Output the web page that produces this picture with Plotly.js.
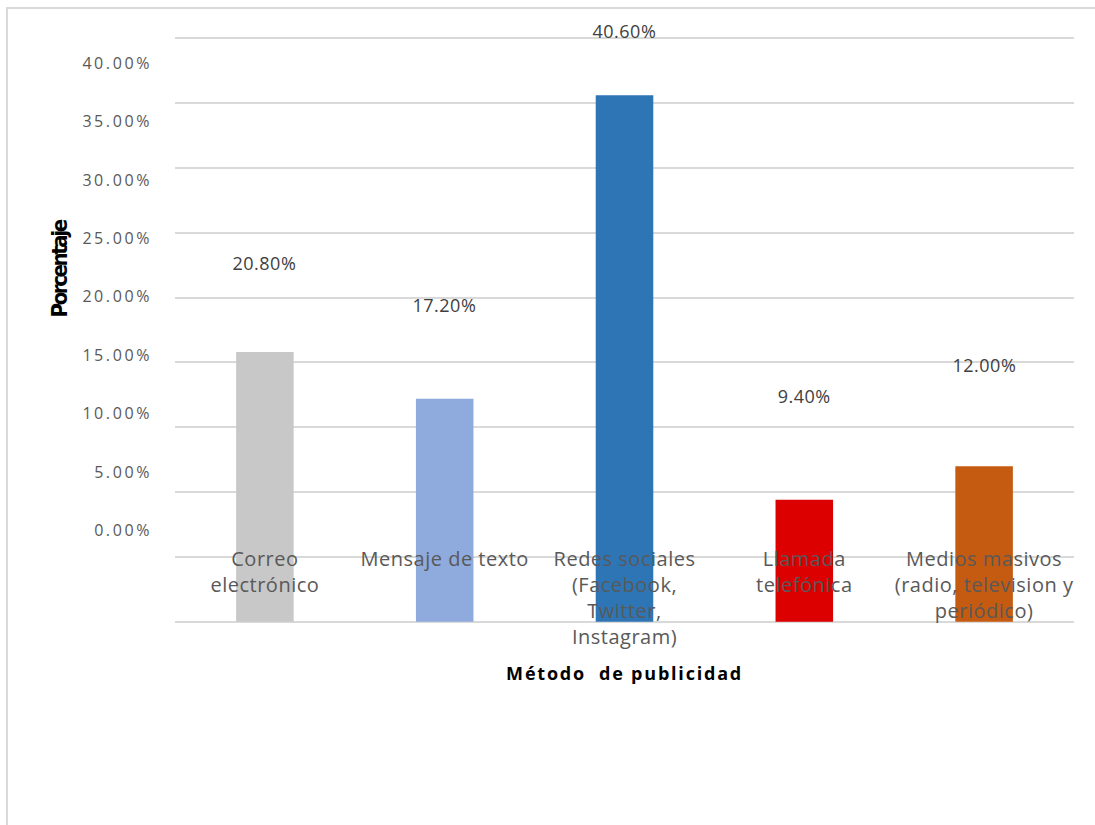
<!DOCTYPE html>
<html>
<head>
<meta charset="utf-8">
<script src="https://cdn.plot.ly/plotly-3.0.1.min.js"></script>
<style>
  html, body { margin: 0; padding: 0; background: #ffffff; }
  #grafico { width: 1095px; height: 825px; }
  /* spaced-out lettering for axis labels */
  #grafico .xtick text { letter-spacing: 0.5px; }
  #grafico .y2tick text { letter-spacing: 2.6px; }
  #grafico .annotation-text { letter-spacing: 0.5px; }
  #grafico .annotation[data-index="5"] text { letter-spacing: -2.4px; }
  #grafico .annotation[data-index="6"] text { letter-spacing: 1.8px; }
</style>
</head>
<body>
<div id="grafico"></div>
<script>
// Método de publicidad: share of respondents per channel
const categorias = [
  "Correo<br>electrónico",
  "Mensaje de texto",
  "Redes sociales<br>(Facebook,<br>Twitter,<br>Instagram)",
  "Llamada<br>telefónica",
  "Medios masivos<br>(radio, television y<br>periódico)"
];
const porcentajes = [20.8, 17.2, 40.6, 9.4, 12.0];
const colores = ["#c8c8c8", "#8faadc", "#2e75b6", "#dc0000", "#c55a11"];

// percentage scale shown on the left
const valoresEje = [0, 5, 10, 15, 20, 25, 30, 35, 40];
const etiquetasEje = ["0.00%", "5.00%", "10.00%", "15.00%", "20.00%", "25.00%", "30.00%", "35.00%", "40.00%"];

const tituloY = "Porcentaje";
const tituloX = "Método&nbsp; de publicidad";

const barras = {
  type: "bar",
  x: categorias,
  y: porcentajes,
  marker: { color: colores },
  width: 0.32,
  xaxis: "x",
  yaxis: "y",
  hoverinfo: "none"
};

// invisible trace so the secondary scale is drawn
const escala = {
  type: "scatter",
  mode: "markers",
  x: [categorias[0]],
  y: [0],
  marker: { opacity: 0 },
  xaxis: "x",
  yaxis: "y2",
  hoverinfo: "none",
  showlegend: false
};

const etiquetas = categorias.map((c, i) => ({
  x: c,
  y: porcentajes[i],
  xref: "x",
  yref: "y2",
  yshift: 25,
  text: porcentajes[i].toFixed(2) + "%",
  showarrow: false,
  font: { family: "Open Sans", size: 18, color: "#404040" }
}));

const anotaciones = etiquetas.concat([
  {
    text: "<b>" + tituloY + "</b>",
    xref: "paper", yref: "paper",
    x: -0.128, y: 0.6032,
    xanchor: "center", yanchor: "middle",
    textangle: -90,
    showarrow: false,
    font: { family: "Liberation Sans Narrow, DejaVu Sans Condensed, DejaVu Sans", size: 22, color: "#000000" }
  },
  {
    text: "<b>" + tituloX + "</b>",
    xref: "paper", yref: "paper",
    x: 0.5, y: -0.0853,
    xanchor: "center", yanchor: "middle",
    showarrow: false,
    font: { family: "Open Sans", size: 18, color: "#000000" }
  }
]);

const layout = {
  width: 1095,
  height: 825,
  margin: { l: 175, r: 21, t: 37, b: 202, pad: 0 },
  paper_bgcolor: "#ffffff",
  plot_bgcolor: "#ffffff",
  showlegend: false,
  xaxis: {
    type: "category",
    range: [-0.5, 4.5],
    showgrid: false,
    zeroline: false,
    showline: false,
    ticks: "",
    ticklabelstandoff: -78,
    tickfont: { family: "Open Sans", size: 20, color: "#595959" },
    fixedrange: true
  },
  yaxis: {
    range: [-0.1, 45.1],
    dtick: 5,
    tick0: 0,
    showgrid: true,
    gridcolor: "#d9d9d9",
    gridwidth: 2,
    zeroline: true,
    zerolinecolor: "#d9d9d9",
    zerolinewidth: 2,
    showline: false,
    showticklabels: false,
    ticks: "",
    fixedrange: true
  },
  yaxis2: {
    overlaying: "y",
    side: "left",
    range: [-7.92, 42.25],
    tickmode: "array",
    tickvals: valoresEje,
    ticktext: etiquetasEje,
    showgrid: false,
    zeroline: false,
    showline: false,
    ticks: "",
    ticklabelstandoff: 22,
    tickfont: { family: "Open Sans", size: 16, color: "#595959" },
    fixedrange: true
  },
  annotations: anotaciones,
  shapes: [
    {
      type: "path",
      xref: "paper",
      yref: "paper",
      path: "M -0.1869 -0.35 L -0.1869 1.0495 L 1.03 1.0495",
      line: { color: "#d9d9d9", width: 2 }
    }
  ]
};

Plotly.newPlot("grafico", [barras, escala], layout, { displayModeBar: false, staticPlot: true });
</script>
</body>
</html>
